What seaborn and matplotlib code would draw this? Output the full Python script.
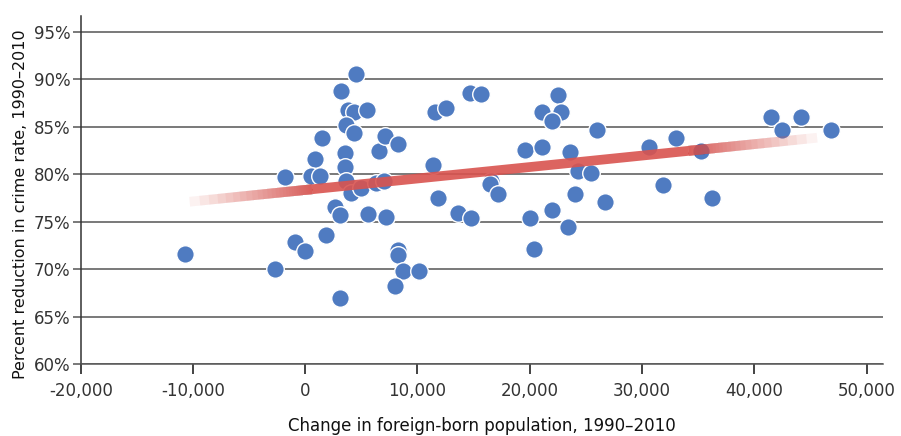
import matplotlib
matplotlib.use('Agg')
import matplotlib.pyplot as plt
from matplotlib.ticker import FuncFormatter
import pandas as pd
import seaborn as sns

# change in foreign-born population (x) and % drop in crime rate (y)
pop_change = [-10740, -2720, -870, -1790, 880, 530, 1350, 3560, 3560, 3650,
              2660, 3110, 1890, -10, 3110, 1510, 3200, 4560, 3790, 4300,
              5540, 3670, 4300, 4120, 5010, 6260, 7000, 6610, 7090, 8220,
              5570, 7210, 11400, 11520, 12560, 14700, 15700, 11870, 13590, 14810,
              16530, 16480, 17160, 19540, 19980, 8240, 8240, 8750, 10120, 8010,
              20400, 22510, 21080, 22810, 22010, 25980, 21110, 23550, 24290, 25480,
              24060, 26690, 21970, 23400, 30620, 33060, 35290, 31860, 36230, 41530,
              42510, 44140, 46810]
crime_drop = [71.65, 70.0, 72.9, 79.75, 81.6, 79.8, 79.8, 82.2, 80.75, 79.3,
              76.5, 75.75, 73.65, 71.9, 67.0, 83.8, 88.8, 90.55, 86.75, 86.5,
              86.75, 85.2, 84.3, 78.0, 78.6, 79.1, 79.3, 82.4, 84.0, 83.2,
              75.8, 75.5, 81.0, 86.6, 87.0, 88.5, 88.45, 77.45, 75.9, 75.35,
              79.3, 79.0, 77.9, 82.5, 75.4, 72.0, 71.5, 69.85, 69.8, 68.2,
              72.15, 88.3, 86.6, 86.6, 85.6, 84.65, 82.9, 82.3, 80.35, 80.1,
              77.9, 77.1, 76.2, 74.5, 82.9, 83.8, 82.45, 78.9, 77.45, 86.0,
              84.65, 86.0, 84.7]

trend_x = [-10770, 46100]
trend_y = [77.05, 83.9]

x_ticks = [-20000, -10000, 0, 10000, 20000, 30000, 40000, 50000]
y_ticks = [60, 65, 70, 75, 80, 85, 90, 95]

sns.set_style('white')
plt.rcParams['font.family'] = ['DejaVu Sans']

df = pd.DataFrame({'change': pop_change, 'reduction': crime_drop})

fig = plt.figure(figsize=(9.01, 4.36), dpi=100)
ax = fig.add_axes([0.0896, 0.1644, 0.8908, 0.7996])

sns.scatterplot(data=df, x='change', y='reduction', ax=ax, s=160,
                color='#4f7bc1', edgecolor='white', linewidth=1, zorder=3)


def along(t0, t1):
    xs = [trend_x[0] + t * (trend_x[1] - trend_x[0]) for t in (t0, t1)]
    ys = [trend_y[0] + t * (trend_y[1] - trend_y[0]) for t in (t0, t1)]
    return xs, ys


# regression line: solid middle, faded ends built from faint stacked pieces
red = '#d9534f'
full_alpha = 0.9
left_fade, right_fade = 0.2, 0.21
xs, ys = along(left_fade, 1 - right_fade)
ax.plot(xs, ys, color=red, alpha=full_alpha, linewidth=7,
        solid_capstyle='butt', zorder=4)

n_layers = 30
a = 1 - (1 - full_alpha) ** (1 / n_layers)
for k in range(1, n_layers + 1):
    level = (1 - (1 - a) ** (k - 0.5)) / full_alpha
    for t0, t1 in [(left_fade * level, left_fade),
                   (1 - right_fade, 1 - right_fade * level)]:
        xs, ys = along(t0, t1)
        ax.plot(xs, ys, color=red, alpha=a, linewidth=7,
                solid_capstyle='butt', zorder=4)

ax.set_xlim(-20000, 51500)
ax.set_ylim(60, 96.68)
ax.set_xticks(x_ticks)
ax.set_yticks(y_ticks)
ax.xaxis.set_major_formatter(FuncFormatter(lambda v, p: f'{v:,.0f}'))
ax.yaxis.set_major_formatter(FuncFormatter(lambda v, p: f'{v:.0f}%'))

ax.set_axisbelow(True)
ax.grid(axis='y', color='#555555', linewidth=1.1)
ax.grid(axis='x', visible=False)

for side in ['top', 'right']:
    ax.spines[side].set_visible(False)
ax.spines['left'].set_color('#333333')
ax.spines['left'].set_linewidth(1.1)
ax.spines['bottom'].set_color('#555555')
ax.spines['bottom'].set_linewidth(1.1)

ax.tick_params(axis='x', bottom=True, direction='out', length=7, width=1.2,
               color='#222222', pad=6, labelsize=12, labelcolor='#333333')
ax.tick_params(axis='y', left=True, direction='out', length=6, width=1.1,
               color='#555555', pad=1.5, labelsize=12, labelcolor='#333333')

ax.set_xlabel('Change in foreign-born population, 1990–2010', fontsize=12,
              color='#111111')
ax.set_ylabel('Percent reduction in crime rate, 1990–2010', fontsize=11.5,
              color='#111111')
ax.xaxis.set_label_coords(0.5, -0.15)
ax.yaxis.set_label_coords(-0.066, 0.46)

fig.savefig('out.png', dpi=100)
